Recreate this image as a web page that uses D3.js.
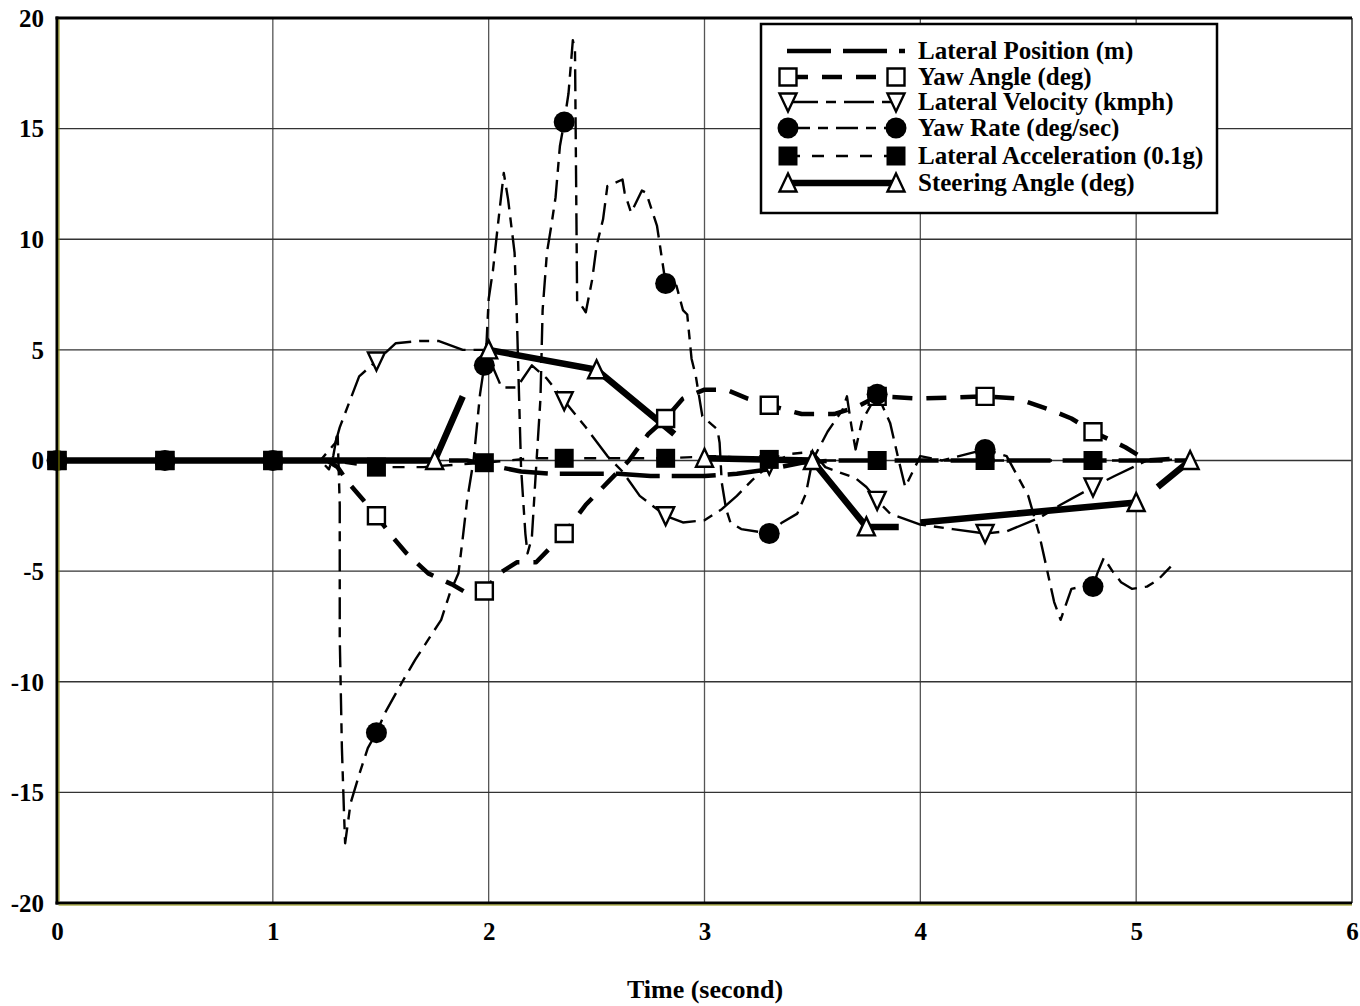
<!DOCTYPE html>
<html>
<head>
<meta charset="utf-8">
<script src="https://cdn.jsdelivr.net/npm/d3@7"></script>
<style>
  body { margin: 0; background: #fff; }
  svg { display: block; }
  text { font-family: "Liberation Serif", "Times New Roman", serif; font-weight: bold; fill: #000; }
</style>
</head>
<body>
<svg id="chart" width="1360" height="1006"></svg>
<script>
// ─── Data ────────────────────────────────────────────────────────────────────

const xTicks = [0, 1, 2, 3, 4, 5, 6];
const yTicks = [-20, -15, -10, -5, 0, 5, 10, 15, 20];
const xTitle = 'Time (second)';

const lateralPosition = [
  [0, 0], [1, 0], [1.9, 0], [2.05, -0.3], [2.15, -0.5], [2.3, -0.6], [2.6, -0.6],
  [2.75, -0.7], [3.0, -0.7], [3.15, -0.6], [3.3, -0.4], [3.45, -0.1], [3.6, 0],
  [4.2, 0], [5.0, 0], [5.25, 0]
];

const yawAngle = [
  [0, 0], [0.5, 0], [1, 0], [1.25, 0], [1.3, -0.3], [1.35, -1], [1.42, -1.8], [1.48, -2.5],
  [1.55, -3.4], [1.62, -4.2], [1.72, -5.1], [1.83, -5.6], [1.9, -6.0], [1.98, -5.9],
  [2.05, -5.1], [2.13, -4.6], [2.22, -4.6], [2.35, -3.3], [2.45, -2.0], [2.55, -1.0],
  [2.65, 0], [2.74, 1.2], [2.82, 1.9], [2.9, 2.8], [3.0, 3.2], [3.1, 3.2], [3.2, 2.8],
  [3.3, 2.5], [3.45, 2.1], [3.6, 2.1], [3.7, 2.4], [3.8, 2.9], [4.0, 2.8], [4.3, 2.9],
  [4.45, 2.8], [4.6, 2.3], [4.7, 1.9], [4.8, 1.3], [4.95, 0.6], [5.05, 0], [5.2, 0.1]
];
const yawAngleMarks = [
  [0, 0], [0.5, 0], [1, 0], [1.48, -2.5], [1.98, -5.9], [2.35, -3.3], [2.82, 1.9],
  [3.3, 2.5], [3.8, 2.9], [4.3, 2.9], [4.8, 1.3]
];

const lateralVelocity = [
  [0, 0], [0.5, 0], [1, 0], [1.22, 0], [1.29, 0.8], [1.31, 1.5], [1.4, 3.8], [1.48, 4.5],
  [1.57, 5.3], [1.68, 5.4], [1.77, 5.4], [1.88, 5.0], [1.98, 5.0], [2.02, 4.2],
  [2.06, 3.3], [2.13, 3.3], [2.2, 4.3], [2.27, 3.7], [2.35, 2.7], [2.45, 1.5],
  [2.55, 0.2], [2.62, -0.5], [2.7, -1.6], [2.82, -2.5], [2.9, -2.8], [3.0, -2.7],
  [3.08, -2.2], [3.15, -1.6], [3.22, -0.9], [3.3, -0.2], [3.4, 0.3], [3.5, 0.4],
  [3.56, -0.3], [3.7, -0.8], [3.75, -1.2], [3.8, -1.8], [3.86, -2.4], [4.0, -2.9],
  [4.15, -3.1], [4.3, -3.3], [4.4, -3.2], [4.55, -2.6], [4.65, -2.0], [4.8, -1.2],
  [4.9, -0.7], [5.05, 0]
];
const lateralVelocityMarks = [
  [1.48, 4.5], [2.35, 2.7], [2.82, -2.5], [3.3, -0.2], [3.8, -1.8], [4.3, -3.3], [4.8, -1.2]
];

const yawRate = [
  [0, 0], [0.5, 0], [1, 0], [1.22, 0], [1.26, -0.4], [1.28, 0.2], [1.3, 1.3], [1.31, -2],
  [1.31, -8], [1.32, -13], [1.33, -16], [1.335, -17.3], [1.36, -15.5], [1.4, -14.2],
  [1.44, -13], [1.48, -12.3], [1.52, -11.4], [1.6, -10], [1.66, -9], [1.72, -8.1],
  [1.78, -7.2], [1.82, -6], [1.86, -5.1], [1.88, -3.5], [1.9, -1.8], [1.93, 0],
  [1.96, 3], [1.98, 4.3], [1.99, 5.3], [2.0, 7.3], [2.02, 8.6], [2.04, 10.4],
  [2.07, 13.0], [2.09, 11.8], [2.12, 9.4], [2.13, 6.7], [2.14, 3.2], [2.15, -0.3],
  [2.17, -3.3], [2.18, -4.2], [2.2, -3.5], [2.22, -0.3], [2.24, 2.8], [2.25, 6.8],
  [2.27, 9.4], [2.29, 10.6], [2.31, 11.9], [2.33, 14.2], [2.35, 15.3], [2.37, 16.6],
  [2.39, 19.0], [2.4, 18.5], [2.41, 7.1], [2.43, 7.0], [2.45, 6.7], [2.48, 8.2],
  [2.5, 9.7], [2.53, 10.9], [2.55, 12.4], [2.62, 12.7], [2.63, 12.1], [2.66, 11.2],
  [2.71, 12.2], [2.73, 12.1], [2.78, 10.6], [2.82, 8.0], [2.87, 7.9], [2.9, 6.8],
  [2.92, 6.6], [2.94, 4.6], [2.96, 3.8], [2.99, 2.0], [3.06, 1.4], [3.07, 0.8],
  [3.08, -1.0], [3.1, -2.2], [3.12, -2.8], [3.17, -3.1], [3.3, -3.3], [3.36, -2.8],
  [3.43, -2.4], [3.47, -1.5], [3.5, 0], [3.57, 1.3], [3.64, 2.3], [3.66, 2.9],
  [3.68, 1.6], [3.7, 0.5], [3.73, 1.8], [3.8, 3.0], [3.86, 1.7], [3.9, 0], [3.93, -1.2],
  [3.96, -0.6], [4.0, 0.2], [4.1, 0], [4.3, 0.5], [4.4, 0.2], [4.5, -1.6], [4.55, -3.3],
  [4.62, -6.4], [4.65, -7.2], [4.7, -5.8], [4.75, -5.7], [4.8, -5.7], [4.82, -5.1],
  [4.85, -4.4], [4.89, -5.0], [4.93, -5.5], [4.98, -5.8], [5.05, -5.7], [5.1, -5.4],
  [5.16, -4.8]
];
const yawRateMarks = [
  [0, 0], [0.5, 0], [1, 0], [1.48, -12.3], [1.98, 4.3], [2.35, 15.3], [2.82, 8.0],
  [3.3, -3.3], [3.8, 3.0], [4.3, 0.5], [4.8, -5.7]
];

const lateralAccel = [
  [0, 0], [0.5, 0], [1, 0], [1.25, 0], [1.48, -0.3], [1.7, -0.3], [1.98, -0.1], [2.2, 0.1],
  [2.35, 0.1], [2.6, 0.1], [2.82, 0.1], [3.05, 0.2], [3.3, 0.05], [3.55, 0], [3.8, 0],
  [4.05, 0], [4.3, 0], [4.55, 0], [4.8, 0], [5.05, 0], [5.2, 0.05]
];
const lateralAccelMarks = [
  [0, 0], [0.5, 0], [1, 0], [1.48, -0.3], [1.98, -0.1], [2.35, 0.1], [2.82, 0.1],
  [3.3, 0.05], [3.8, 0], [4.3, 0], [4.8, 0]
];

// null value = break in the line
const steeringAngle = [
  [0, 0], [0.5, 0], [1, 0], [1.5, 0], [1.75, 0], [1.88, 2.9], [1.94, null],
  [2.0, 5.0], [2.5, 4.1], [2.86, 1.2], [2.93, null], [3.0, 0.1], [3.5, 0],
  [3.75, -3.0], [3.9, -3.0], [3.95, null], [4.0, -2.8], [5.0, -1.9], [5.05, null],
  [5.1, -1.2], [5.25, 0]
];
const steeringAngleMarks = [
  [1.75, 0], [2.0, 5.0], [2.5, 4.1], [3.0, 0.1], [3.5, 0], [3.75, -3.0], [5.0, -1.9], [5.25, 0]
];

const seriesNames = [
  'Lateral Position (m)',
  'Yaw Angle (deg)',
  'Lateral Velocity (kmph)',
  'Yaw Rate (deg/sec)',
  'Lateral Acceleration (0.1g)',
  'Steering Angle (deg)'
];

// ─── Styles ──────────────────────────────────────────────────────────────────

const series = [
  { name: seriesNames[0], values: lateralPosition, marks: [], shape: null,
    width: 4.5, dash: '44,12' },
  { name: seriesNames[1], values: yawAngle, marks: yawAngleMarks, shape: 'squareOpen',
    width: 4.5, dash: '20,14' },
  { name: seriesNames[2], values: lateralVelocity, marks: lateralVelocityMarks, shape: 'triDown',
    width: 2.4, dash: '30,8,10,8' },
  { name: seriesNames[3], values: yawRate, marks: yawRateMarks, shape: 'circle',
    width: 2.4, dash: '22,8,10,8' },
  { name: seriesNames[4], values: lateralAccel, marks: lateralAccelMarks, shape: 'squareFilled',
    width: 2.4, dash: '12,12' },
  { name: seriesNames[5], values: steeringAngle, marks: steeringAngleMarks, shape: 'triUp',
    width: 6.5, dash: null }
];

function markerPath(shape, s) {
  const h = s / 2;
  switch (shape) {
    case 'squareOpen':
    case 'squareFilled':
      return `M${-h},${-h}H${h}V${h}H${-h}Z`;
    case 'triUp':
      return `M0,${-h - 1}L${h},${h}L${-h},${h}Z`;
    case 'triDown':
      return `M${-h},${-h}L${h},${-h}L0,${h + 1}Z`;
    default:
      return null;
  }
}

function drawMarker(g, shape, cx, cy) {
  if (!shape) return;
  if (shape === 'circle') {
    g.append('circle').attr('cx', cx).attr('cy', cy).attr('r', 10.5).attr('fill', '#000');
    return;
  }
  const filled = shape === 'squareFilled';
  g.append('path')
    .attr('transform', `translate(${cx},${cy})`)
    .attr('d', markerPath(shape, filled ? 19 : 17))
    .attr('fill', filled ? '#000' : '#fff')
    .attr('stroke', '#000')
    .attr('stroke-width', filled ? 0 : 2.4);
}

// ─── Scales ──────────────────────────────────────────────────────────────────

const svg = d3.select('#chart');
const x = d3.scaleLinear().domain([0, 6]).range([57, 1352]);
const y = d3.scaleLinear().domain([-20, 20]).range([903, 18]);

// ─── Grid ────────────────────────────────────────────────────────────────────

const grid = svg.append('g');
grid.selectAll('.gx')
  .data(xTicks.slice(1))
  .join('line')
  .attr('x1', d => x(d)).attr('x2', d => x(d))
  .attr('y1', y(20)).attr('y2', y(-20))
  .attr('stroke', '#555').attr('stroke-width', 1.3);
grid.selectAll('.gy')
  .data(yTicks.slice(1, -1))
  .join('line')
  .attr('x1', x(0)).attr('x2', x(6))
  .attr('y1', d => y(d)).attr('y2', d => y(d))
  .attr('stroke', '#333').attr('stroke-width', 1.3);

// ─── Series lines ────────────────────────────────────────────────────────────

const line = d3.line()
  .defined(d => d[1] != null)
  .x(d => x(d[0]))
  .y(d => y(d[1]));

const plot = svg.append('g');
series.forEach(s => {
  plot.append('path')
    .datum(s.values)
    .attr('d', line)
    .attr('fill', 'none')
    .attr('stroke', '#000')
    .attr('stroke-width', s.width)
    .attr('stroke-dasharray', s.dash)
    .attr('stroke-linejoin', 'round');
});

// markers on top
const marks = svg.append('g');
series.forEach(s => {
  s.marks.forEach(d => drawMarker(marks, s.shape, x(d[0]), y(d[1])));
});

// ─── Frame ───────────────────────────────────────────────────────────────────

svg.append('line')
  .attr('x1', x(6)).attr('x2', x(6)).attr('y1', y(20)).attr('y2', y(-20))
  .attr('stroke', '#555').attr('stroke-width', 1.5);
svg.append('line')
  .attr('x1', x(0) - 1.5).attr('x2', x(6)).attr('y1', y(20)).attr('y2', y(20))
  .attr('stroke', '#000').attr('stroke-width', 3);
svg.append('line')
  .attr('x1', x(0) - 1.5).attr('x2', x(6)).attr('y1', y(-20)).attr('y2', y(-20))
  .attr('stroke', '#000').attr('stroke-width', 3);
svg.append('line')
  .attr('x1', x(0) + 1.5).attr('x2', x(6)).attr('y1', y(-20) + 2).attr('y2', y(-20) + 2)
  .attr('stroke', '#8a8a00').attr('stroke-width', 1);
svg.append('line')
  .attr('x1', x(0)).attr('x2', x(0)).attr('y1', y(20) - 1.5).attr('y2', y(-20) + 1.5)
  .attr('stroke', '#000').attr('stroke-width', 3);
svg.append('line')
  .attr('x1', x(0) + 2).attr('x2', x(0) + 2).attr('y1', y(20) + 1.5).attr('y2', y(-20) - 1.5)
  .attr('stroke', '#8a8a00').attr('stroke-width', 1);

// ─── Axes ────────────────────────────────────────────────────────────────────

svg.append('g')
  .attr('transform', `translate(0,${y(-20)})`)
  .call(d3.axisBottom(x).tickValues(xTicks).tickSize(0).tickPadding(19).tickFormat(d => String(d)))
  .call(sel => {
    sel.select('.domain').remove();
    sel.selectAll('text')
      .attr('fill', '#000')
      .style('font-family', '"Liberation Serif", "Times New Roman", serif')
      .style('font-weight', 'bold')
      .style('font-size', '25px');
  });

svg.append('g')
  .attr('transform', `translate(${x(0)},0)`)
  .call(d3.axisLeft(y).tickValues(yTicks).tickSize(0).tickPadding(13).tickFormat(d => String(d)))
  .call(sel => {
    sel.select('.domain').remove();
    sel.selectAll('text')
      .attr('fill', '#000')
      .attr('dy', '0.33em')
      .style('font-family', '"Liberation Serif", "Times New Roman", serif')
      .style('font-weight', 'bold')
      .style('font-size', '25px');
  });

svg.append('text')
  .attr('x', 705).attr('y', 998)
  .attr('text-anchor', 'middle')
  .style('font-size', '26px')
  .text(xTitle);

// ─── Legend ──────────────────────────────────────────────────────────────────

const legend = svg.append('g');
legend.append('rect')
  .attr('x', 761).attr('y', 24).attr('width', 456).attr('height', 189)
  .attr('fill', '#fff').attr('stroke', '#000').attr('stroke-width', 2.5);

const rowY = [51, 77, 102, 128, 156, 183];
series.forEach((s, i) => {
  const ly = rowY[i];
  const x0 = s.shape ? 788 : 787;
  const x1 = s.shape ? 896 : 905;
  legend.append('line')
    .attr('x1', x0).attr('x2', x1).attr('y1', ly).attr('y2', ly)
    .attr('stroke', '#000')
    .attr('stroke-width', s.width)
    .attr('stroke-dasharray', s.dash);
  drawMarker(legend, s.shape, 788, ly);
  drawMarker(legend, s.shape, 896, ly);
  legend.append('text')
    .attr('x', 918).attr('y', ly)
    .attr('dy', '0.33em')
    .style('font-size', '25px')
    .text(s.name);
});
</script>
</body>
</html>
